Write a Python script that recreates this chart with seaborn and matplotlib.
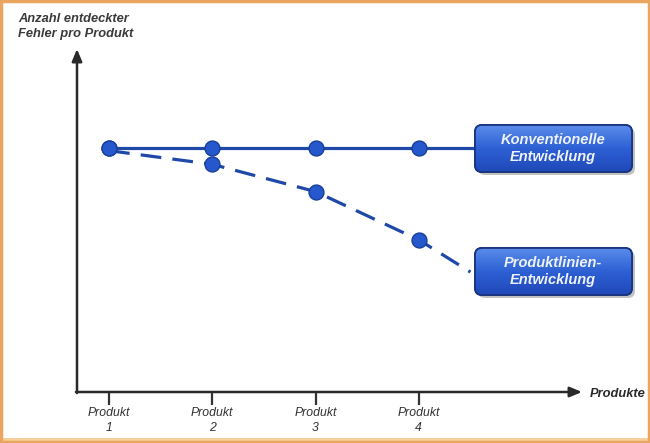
import numpy as np
import pandas as pd
import matplotlib.pyplot as plt
import seaborn as sns
from matplotlib.patches import FancyBboxPatch, Rectangle

# Daten
produkte = [1, 2, 3, 4]
tick_labels = ['Produkt\n1', 'Produkt\n2', 'Produkt\n3', 'Produkt\n4']
konventionell = [10.0, 10.0, 10.0, 10.0]
produktlinie = [10.0, 9.34, 8.22, 6.24]
# Linien laufen bis zu den Kästen weiter
kon_linie_x = [1, 2, 3, 4, 4.55]
kon_linie_y = [10.0, 10.0, 10.0, 10.0, 10.0]
pl_linie_x = [1, 2, 3, 4, 4.5]
pl_linie_y = [9.9, 9.34, 8.22, 6.24, 4.92]

sns.set_style('white')
plt.rcParams['font.family'] = ['Liberation Sans', 'DejaVu Sans']

fig = plt.figure(figsize=(6.5, 4.43), dpi=100)
fig.patch.set_facecolor('white')

W, H = 650, 443
ax = fig.add_axes([77 / W, (H - 392) / H, (582 - 77) / W, (392 - 49) / H])

blau_linie = '#1f48a8'
blau_punkt = '#2458cc'

df_kon = pd.DataFrame({'x': kon_linie_x, 'y': kon_linie_y})
df_pl = pd.DataFrame({'x': pl_linie_x, 'y': pl_linie_y})
sns.lineplot(data=df_kon, x='x', y='y', ax=ax, color=blau_linie, lw=2.3, sort=False)
sns.lineplot(data=df_pl, x='x', y='y', ax=ax, color=blau_linie, lw=2.3, sort=False,
             dashes=False).lines[-1].set_dashes([6.5, 3.5])

punkte = pd.DataFrame({'x': produkte + produkte,
                       'y': konventionell + produktlinie})
sns.scatterplot(data=punkte, x='x', y='y', ax=ax, s=115, color=blau_punkt,
                edgecolor='#1a3f9a', linewidth=1, zorder=5, clip_on=False)

ax.set_xlim(0.69, 5.58)
ax.set_ylim(0, 14.07)
for s in ax.spines.values():
    s.set_visible(False)
ax.set_yticks([])
ax.set_xticks(produkte)
ax.set_xticklabels(tick_labels, fontsize=8.8, style='italic', color='#333333', linespacing=1.35)
ax.tick_params(axis='x', direction='out', length=9, width=1.6, color='#333333', pad=2, bottom=True)
ax.set_xlabel('')
ax.set_ylabel('')
ax.set_facecolor('none')

# Achsenpfeile
pfeil = dict(arrowstyle='-|>,head_length=0.6,head_width=0.25', color='#2a2a2a', lw=1.8,
             shrinkA=0, shrinkB=0, mutation_scale=12)
ax.annotate('', xy=(1, 0), xytext=(-0.002, 0), xycoords='axes fraction', arrowprops=pfeil)
ax.annotate('', xy=(0, 1), xytext=(0, -0.003), xycoords='axes fraction', arrowprops=pfeil)

# Overlay in Pixelkoordinaten für Beschriftung, Kästen, Rahmen
ov = fig.add_axes([0, 0, 1, 1])
ov.set_xlim(0, W)
ov.set_ylim(H, 0)
ov.axis('off')
ov.patch.set_alpha(0)

ov.text(18, 13, 'Anzahl entdeckter\nFehler pro Produkt', fontsize=9.3, fontweight='bold',
        style='italic', color='#3a3a3a', va='top', ha='left', linespacing=1.35)
ov.text(590, 394, 'Produkte', fontsize=9.3, fontweight='bold', style='italic',
        color='#2a2a2a', va='center', ha='left')

verlauf = np.linspace(0, 1, 64).reshape(-1, 1)
cmap = plt.matplotlib.colors.LinearSegmentedColormap.from_list('b', ['#5a8cea', '#2d60d4', '#2048b8'])
for (y0, y1, txt) in [(125, 172, 'Konventionelle\nEntwicklung'),
                      (248, 295, 'Produktlinien-\nEntwicklung')]:
    schatten = FancyBboxPatch((478, y0 + 3), 157, y1 - y0, boxstyle='round,pad=0,rounding_size=7',
                              fc='#9a9a9a', ec='none', alpha=0.6, zorder=2)
    ov.add_patch(schatten)
    box = FancyBboxPatch((475, y0), 157, y1 - y0, boxstyle='round,pad=0,rounding_size=7',
                         fc='#2a5cd0', ec='#1a3580', lw=1.3, zorder=3)
    ov.add_patch(box)
    im = ov.imshow(verlauf, extent=(475, 632, y1, y0), cmap=cmap, aspect='auto', zorder=3.5)
    im.set_clip_path(box)
    rand = FancyBboxPatch((475, y0), 157, y1 - y0, boxstyle='round,pad=0,rounding_size=7',
                          fc='none', ec='#1a3580', lw=1.3, zorder=4)
    ov.add_patch(rand)
    ov.text(553, (y0 + y1) / 2, txt, fontsize=10.5, fontweight='bold', style='italic',
            color='#eef2fb', ha='center', va='center', linespacing=1.3, zorder=5)
ov.set_xlim(0, W)
ov.set_ylim(H, 0)

# oranger Rahmen
ov.add_patch(Rectangle((1, 1), W - 2, H - 2, fc='none', ec='#eaa55e', lw=2.5, zorder=10))
ov.add_patch(Rectangle((0, H - 5), W, 5, fc='#f6cf9a', ec='none', zorder=9))

fig.savefig('out.png', dpi=100)
